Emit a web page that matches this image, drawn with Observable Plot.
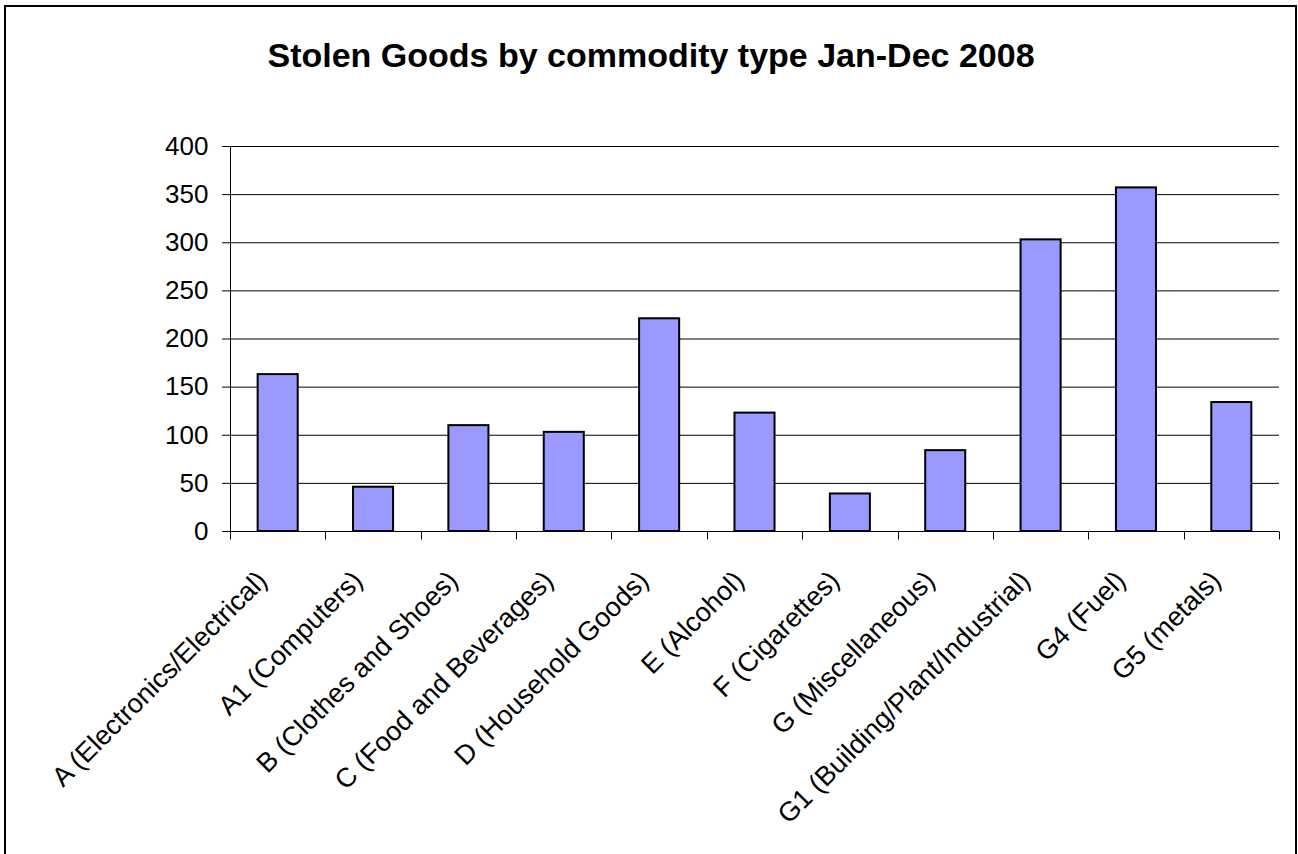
<!DOCTYPE html>
<html>
<head>
<meta charset="utf-8">
<script src="https://cdn.jsdelivr.net/npm/d3@7"></script>
<script src="https://cdn.jsdelivr.net/npm/@observablehq/plot@0.6"></script>
<style>
  html, body { margin: 0; padding: 0; background: #fff; overflow: hidden; }
  #wrap { position: relative; width: 1298px; height: 854px; font-family: "Liberation Sans", Arial, sans-serif; }
  #title { width: 1298px; height: 100px; box-sizing: border-box; padding-top: 38px; padding-left: 4px;
           text-align: center; font-weight: bold; font-size: 34px; line-height: 34px; color: #000; }
  #border { position: absolute; left: 4px; top: 5px; width: 1293px; height: 1000px; box-sizing: border-box;
            border: 2px solid #000; pointer-events: none; z-index: 2; }
</style>
</head>
<body>
<div id="wrap">
  <div id="border"></div>
  <div id="title">Stolen Goods by commodity type Jan-Dec 2008</div>
  <div id="chart"></div>
</div>
<script>
const categories = [
  "A (Electronics/Electrical)",
  "A1 (Computers)",
  "B (Clothes and Shoes)",
  "C (Food and Beverages)",
  "D (Household Goods)",
  "E (Alcohol)",
  "F (Cigarettes)",
  "G (Miscellaneous)",
  "G1 (Building/Plant/Industrial)",
  "G4 (Fuel)",
  "G5 (metals)"
];
const values = [163, 46, 110, 103, 221, 123, 39, 84, 303, 357, 134];
const yTicks = [0, 50, 100, 150, 200, 250, 300, 350, 400];

const data = categories.map((c, i) => ({category: c, value: values[i]}));

const chart = Plot.plot({
  width: 1298,
  height: 754,
  marginLeft: 230,
  marginRight: 19,
  marginTop: 46,
  marginBottom: 323,
  style: {fontFamily: "'Liberation Sans', Arial, sans-serif", background: "transparent", color: "#000"},
  x: {type: "band", domain: categories, paddingInner: 0.58, paddingOuter: 0.29, round: false, axis: null},
  y: {domain: [0, 400], axis: null},
  marks: [
    Plot.gridY(yTicks, {stroke: "#000", strokeOpacity: 1, strokeWidth: 1}),
    Plot.axisY(yTicks, {tickSize: 8, tickPadding: 14, fontSize: 26, label: null, stroke: "#000", strokeOpacity: 1}),
    Plot.barY(data, {x: "category", y: "value", fill: "#9999ff", stroke: "#000", strokeWidth: 2}),
    Plot.ruleY([0], {stroke: "#000", strokeWidth: 1}),
    Plot.frame({anchor: "left", stroke: "#000"}),
    Plot.text(categories, {
      x: d => d, frameAnchor: "bottom", rotate: -45, textAnchor: "end", lineAnchor: "top",
      dx: -23, dy: 37, fontSize: 27, fill: "#000"
    })
  ]
});

document.getElementById("chart").appendChild(chart);

// tick marks at band boundaries on the x axis, using Plot's x and y scales
const sx = chart.scale("x");
const sy = chart.scale("y");
const off = (sx.step - sx.bandwidth) / 2;
const bounds = categories.map(c => sx.apply(c) - off);
bounds.push(sx.apply(categories[categories.length - 1]) + sx.bandwidth + off);
const y0 = sy.apply(0);
d3.select(chart).append("g")
  .attr("stroke", "#000")
  .attr("transform", "translate(0.5,0.5)")
  .selectAll("line")
  .data(bounds)
  .join("line")
  .attr("x1", d => Math.round(d))
  .attr("x2", d => Math.round(d))
  .attr("y1", Math.round(y0))
  .attr("y2", Math.round(y0) + 8);
</script>
</body>
</html>
